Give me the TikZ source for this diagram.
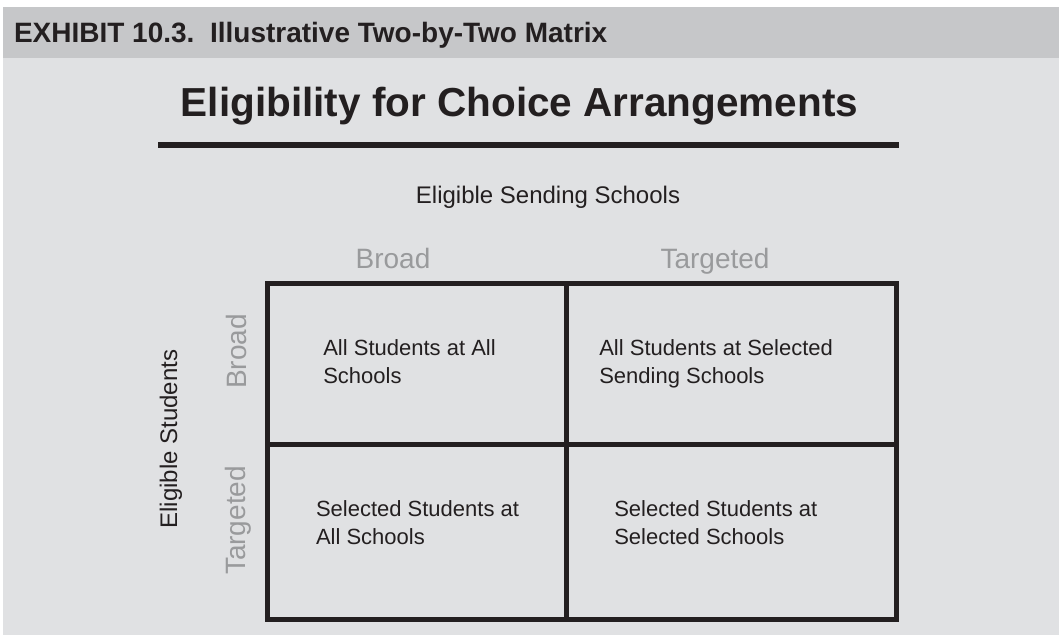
\documentclass[tikz,border=0pt]{standalone}
\usepackage{fontspec}
\setmainfont{Liberation Sans}
\usetikzlibrary{positioning,calc}
\definecolor{panelgray}{HTML}{E0E1E3}
\definecolor{bandgray}{HTML}{C6C7C9}
\definecolor{inkblack}{HTML}{231F20}
\definecolor{labelgray}{HTML}{999A9C}

\begin{document}
\begin{tikzpicture}[x=1pt, y=-1pt, inner sep=0pt, outer sep=0pt]
	\tikzstyle{cell text}=[anchor=base west, align=left, text=inkblack, font=\fontsize{22}{27.5}\selectfont]
	\tikzstyle{head label}=[anchor=base, text=labelgray, font=\fontsize{28}{30}\selectfont]
	\tikzstyle{axis title}=[anchor=base, text=inkblack, font=\fontsize{24}{26}\selectfont]
	\tikzstyle{grid line}=[draw=inkblack, line width=5pt]
	\useasboundingbox (0,0) rectangle (1059,635);
	\fill[white] (0,0) rectangle (1059,635);
	% header band and panel
	\fill[bandgray] (3,7) rectangle (1059,58);
	\fill[panelgray] (3,58) rectangle (1059,635);
	\node[anchor=base west, text=inkblack, font=\bfseries\fontsize{28}{30}\selectfont] (exhibit) at (14,42.7) {EXHIBIT 10.3.\ \ Illustrative Two-by-Two Matrix};
	% title and rule
	\node[anchor=base, text=inkblack, font=\bfseries\fontsize{40.5}{44}\selectfont] (title) at (519.5,116.7) {Eligibility for Choice Arrangements};
	\coordinate (rule w) at (158,145);
	\coordinate (rule e) at (899,145);
	\draw[inkblack, line width=6.5pt] (rule w) -- (rule e);
	% axis titles and labels
	\node[axis title] (sending) at (548,203) {Eligible Sending Schools};
	\node[axis title, rotate=90] (students) at (177,439) {Eligible Students};
	\node[head label] (col broad) at (393,268) {Broad};
	\node[head label] (col targeted) at (715,268) {Targeted};
	\node[head label, rotate=90] (row broad) at (246.5,351.5) {Broad};
	\node[head label, rotate=90] (row targeted) at (245.5,520.5) {Targeted};
	% the matrix
	\coordinate (nw) at (267.5,283);
	\coordinate (se) at (896,619.5);
	\coordinate (mid) at (566.5,444);
	\draw[grid line] (nw) rectangle (se);
	\draw[grid line] (nw -| mid) -- (se -| mid);
	\draw[grid line] (nw |- mid) -- (se |- mid);
	% base sits on the second line
	\node[cell text] (bb) at (323.3,383.2) {All Students at All\\Schools};
	\node[cell text] (bt) at (599.3,383.2) {All Students at Selected\\Sending Schools};
	\node[cell text] (tb) at (316,544.2) {Selected Students at\\All Schools};
	\node[cell text] (tt) at (614.3,544.2) {Selected Students at\\Selected Schools};
\end{tikzpicture}
\end{document}
